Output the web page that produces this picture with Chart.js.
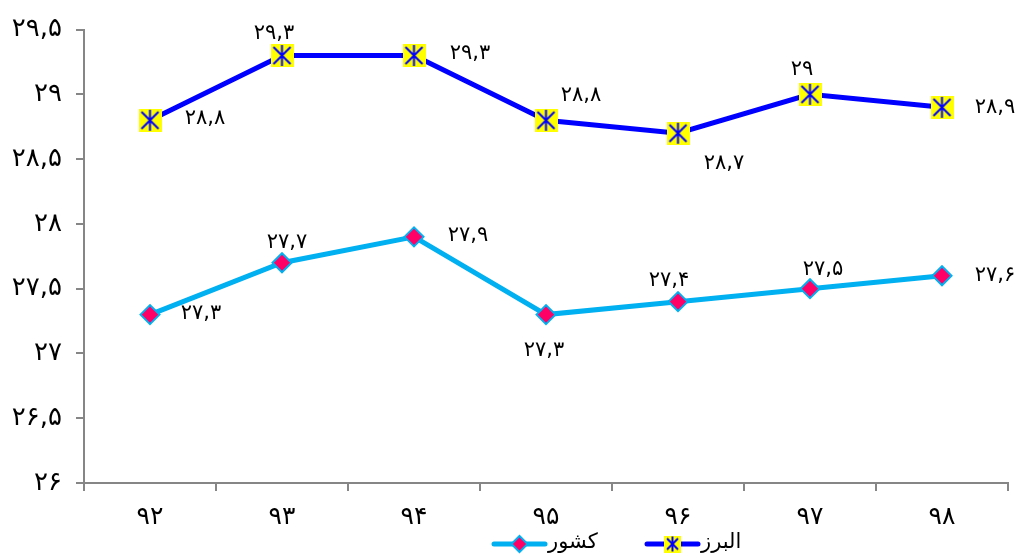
<!DOCTYPE html>
<html lang="fa">
<head>
  <meta charset="utf-8">
  <title>البرز و کشور</title>
  <script src="https://cdn.jsdelivr.net/npm/chart.js@4.4.3/dist/chart.umd.min.js"></script>
  <style>
    html, body { margin: 0; padding: 0; background: #fff; overflow: hidden; }
    .chart-box { width: 1018px; height: 555px; position: relative; }
  </style>
</head>
<body>
  <div class="chart-box">
    <canvas id="trendChart"></canvas>
  </div>

  <script>
    // chart data
    const categories = ['۹۲', '۹۳', '۹۴', '۹۵', '۹۶', '۹۷', '۹۸'];
    const alborzValues = [28.8, 29.3, 29.3, 28.8, 28.7, 29, 28.9];
    const countryValues = [27.3, 27.7, 27.9, 27.3, 27.4, 27.5, 27.6];
    const seriesNames = ['البرز', 'کشور'];
    const yMin = 26, yMax = 29.5, yStep = 0.5;

    // label offsets (px) from each point, as in the original
    const alborzLabelDx = [53, -10, 54, 33, 44, -10, 51];
    const alborzLabelDy = [-2, -22, -2, -25, 30, -25, 0];
    const countryLabelDx = [49, 3, 52, -4, -11, 11, 51];
    const countryLabelDy = [-1, -20, -1, 36, -21, -19, 0];

    const faDigits = '۰۱۲۳۴۵۶۷۸۹';
    function toFa(v) {
      const s = String(Math.round(v * 10) / 10);
      return s.replace('.', ',').replace(/\d/g, d => faDigits[d]);
    }

    // yellow square with blue star
    function starMarker(size) {
      const c = document.createElement('canvas');
      c.width = size; c.height = size;
      const g = c.getContext('2d');
      g.fillStyle = '#FFFF00';
      g.fillRect(0, 0, size, size);
      g.strokeStyle = '#0000FF';
      g.lineWidth = 2;
      const p = 3;
      g.beginPath();
      g.moveTo(size / 2, 1); g.lineTo(size / 2, size - 1);
      g.moveTo(p, p); g.lineTo(size - p, size - p);
      g.moveTo(size - p, p); g.lineTo(p, size - p);
      g.stroke();
      return c;
    }

    function drawDiamond(g, x, y, r) {
      g.fillStyle = '#FF0066';
      g.strokeStyle = '#00B0F0';
      g.lineWidth = 2;
      g.beginPath();
      g.moveTo(x, y - r); g.lineTo(x + r, y); g.lineTo(x, y + r); g.lineTo(x - r, y);
      g.closePath();
      g.fill(); g.stroke();
    }

    const alborzMarker = starMarker(23);
    const legendStar = starMarker(17);

    // legend drawn by hand: line + marker, then the name (کشور on the left)
    const bottomLegend = {
      id: 'bottomLegend',
      afterDraw(chart) {
        const ctx = chart.ctx;
        const y = chart.height - 11;
        const items = [
          { name: seriesNames[1], color: '#00B0F0', x: 492, marker: (cx) => drawDiamond(ctx, cx, y, 8) },
          { name: seriesNames[0], color: '#0000FF', x: 645, marker: (cx) => ctx.drawImage(legendStar, cx - 8.5, y - 8.5) }
        ];
        ctx.save();
        ctx.font = '21px "DejaVu Sans"';
        ctx.textBaseline = 'middle';
        ctx.textAlign = 'left';
        items.forEach(it => {
          ctx.strokeStyle = it.color;
          ctx.lineWidth = 5;
          ctx.lineCap = 'round';
          ctx.beginPath();
          ctx.moveTo(it.x + 2, y); ctx.lineTo(it.x + 53, y);
          ctx.stroke();
          it.marker(it.x + 27.5);
          ctx.fillStyle = '#000';
          ctx.fillText(it.name, it.x + 56, y - 1);
        });
        ctx.restore();
      }
    };

    const pointLabels = {
      id: 'pointLabels',
      afterDatasetsDraw(chart) {
        const ctx = chart.ctx;
        const offsets = [[alborzLabelDx, alborzLabelDy], [countryLabelDx, countryLabelDy]];
        ctx.save();
        ctx.font = '21px "DejaVu Sans"';
        ctx.fillStyle = '#000';
        ctx.textAlign = 'center';
        ctx.textBaseline = 'middle';
        ctx.letterSpacing = '4px';
        chart.data.datasets.forEach((ds, di) => {
          const meta = chart.getDatasetMeta(di);
          meta.data.forEach((pt, i) => {
            ctx.fillText(toFa(ds.data[i]), pt.x + offsets[di][0][i] + 2, pt.y + offsets[di][1][i]);
          });
        });
        ctx.restore();
      }
    };

    const axisGrey = '#868686';

    new Chart(document.getElementById('trendChart'), {
      type: 'line',
      data: {
        labels: categories,
        datasets: [
          {
            label: seriesNames[0],
            data: alborzValues,
            borderColor: '#0000FF',
            borderWidth: 5,
            pointStyle: alborzMarker,
            pointRadius: 11,
            pointHoverRadius: 11,
            tension: 0
          },
          {
            label: seriesNames[1],
            data: countryValues,
            borderColor: '#00B0F0',
            borderWidth: 5,
            pointStyle: 'rectRot',
            pointRadius: 9.5,
            pointHoverRadius: 9.5,
            pointBackgroundColor: '#FF0066',
            pointBorderColor: '#00B0F0',
            pointBorderWidth: 2,
            tension: 0
          }
        ]
      },
      options: {
        responsive: true,
        maintainAspectRatio: false,
        animation: false,
        layout: { autoPadding: false, padding: { top: 28, right: 10, bottom: 22, left: 0 } },
        plugins: {
          tooltip: { enabled: false },
          legend: { display: false }
        },
        scales: {
          x: {
            offset: true,
            afterFit(scale) {
              scale.height = 50;
              scale.paddingLeft = 0;
              scale.paddingRight = 0;
            },
            grid: {
              offset: true,
              drawOnChartArea: false,
              drawTicks: true,
              tickLength: 8,
              color: axisGrey,
              lineWidth: 2
            },
            border: { display: true, color: axisGrey, width: 2 },
            ticks: {
              color: '#000',
              padding: 11,
              font: { family: '"DejaVu Sans"', size: 25 }
            }
          },
          y: {
            min: yMin,
            max: yMax,
            afterFit(scale) { scale.width = 84; },
            grid: {
              drawOnChartArea: false,
              drawTicks: true,
              tickLength: 8,
              color: axisGrey,
              lineWidth: 2
            },
            border: { display: true, color: axisGrey, width: 2 },
            ticks: {
              stepSize: yStep,
              color: '#000',
              padding: 14,
              font: { family: '"DejaVu Sans"', size: 26 },
              callback: v => toFa(v)
            }
          }
        }
      },
      plugins: [pointLabels, bottomLegend]
    });
  </script>
</body>
</html>
